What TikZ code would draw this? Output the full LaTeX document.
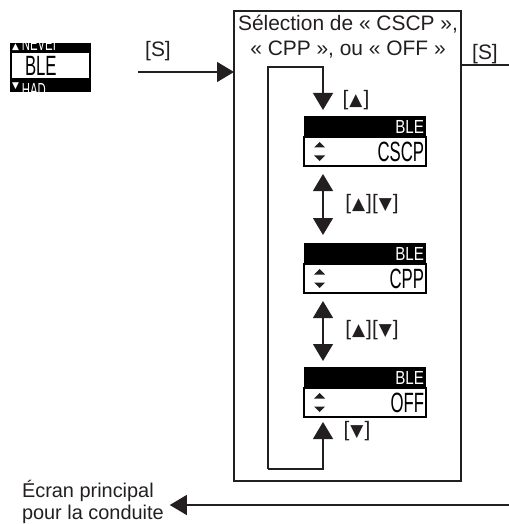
\documentclass[tikz,border=0pt]{standalone}
\usepackage{fontspec}
\setmainfont{Liberation Sans}
\newfontfamily\symfont{DejaVu Sans}
\newfontfamily\lcdfont[FakeStretch=0.6]{Liberation Sans}
\newfontfamily\lcdwide[FakeStretch=0.8]{Liberation Sans}
\usetikzlibrary{arrows.meta,positioning}
\definecolor{ink}{RGB}{35,31,32}
\newcommand{\trup}{\hspace{1bp}{\symfont\fontsize{17}{17}\selectfont ▲}\hspace{1bp}}
\newcommand{\trdn}{\hspace{1bp}{\symfont\fontsize{17}{17}\selectfont ▼}\hspace{1bp}}
% up/down marker on the left of a screen
\newcommand{\updn}[1]{\fill[ink, shift={(#1.west)}] (10,-4) -- (21,-4) -- (15.5,-9.5) -- cycle (10,4) -- (21,4) -- (15.5,9.5) -- cycle;}

\begin{document}
\begin{tikzpicture}[x=1bp, y=-1bp, ink,
  every node/.style={inner sep=0pt, outer sep=0pt, text=ink, font=\fontsize{21}{24}\selectfont},
  arr/.style={-{Triangle[width=20bp,length=17bp]}, line width=1.2bp},
  dblarr/.style={{Triangle[width=20bp,length=17bp]}-{Triangle[width=20bp,length=17bp]}, line width=1.2bp},
  lcdbar/.style={fill=black, text=white, minimum height=21bp, text width=118bp, inner xsep=2bp, align=right, font=\lcdwide\fontsize{19}{19}\selectfont},
  lcdscr/.style={draw=black, line width=2.4bp, fill=white, minimum height=29bp, text width=118bp, inner xsep=2bp, align=right, text=black, font=\lcdfont\fontsize{28}{28}\selectfont}]
  \useasboundingbox (0,0) rectangle (509,524);

  % Screen on the left
  \node[fill=black, minimum width=81bp, minimum height=49bp] (bleframe) at (50.5,67.5) {};
  \node[fill=white, minimum width=77bp, minimum height=25bp, text width=51bp, align=left, text=black, font=\lcdfont\fontsize{28}{28}\selectfont] (blescr) at (50.5,65.5) {BLE};
  \begin{scope}
    \clip (bleframe.north west) rectangle (bleframe.east |- blescr.north);
    \node[anchor=base west, text=white, font=\lcdfont\fontsize{19}{19}\selectfont] (bleup) at (12,51) {\raisebox{1bp}{\symfont\fontsize{9}{9}\selectfont ▲}\hspace{3bp}NEVEI};
  \end{scope}
  \begin{scope}
    \clip (bleframe.south west) rectangle (bleframe.east |- blescr.south);
    \node[anchor=base west, text=white, font=\lcdfont\fontsize{19}{19}\selectfont] (bledn) at (12,97) {\raisebox{8bp}{\symfont\fontsize{9}{9}\selectfont ▼}\hspace{3bp}HAD};
  \end{scope}

  % Selection box
  \node[draw, line width=1.2bp, minimum width=227bp, minimum height=470bp, anchor=north west] (selbox) at (234,11) {};
  \node[align=center, anchor=north, font=\fontsize{21}{25}\selectfont] (seltitle) at (348,15) {Sélection de «~CSCP~»,\\«~CPP~», ou «~OFF~»};

  % The three screens
  \node[lcdbar] (cscpbar) at (365,126.5) {BLE};
  \node[lcdscr, below=0pt of cscpbar] (cscp) {CSCP};
  \node[lcdbar] (cppbar) at (365,253.5) {BLE};
  \node[lcdscr, below=0pt of cppbar] (cpp) {CPP};
  \node[lcdbar] (offbar) at (365,377.5) {BLE};
  \node[lcdscr, below=0pt of offbar] (offscr) {OFF};
  \updn{cscp}
  \updn{cpp}
  \updn{offscr}

  % In and out
  \coordinate (sin) at (138,72);
  \draw[arr] (sin) -- (sin -| selbox.west);
  \node[anchor=base] (sleft) at (158,57) {[S]};
  \coordinate (sout) at (509,65);
  \draw[line width=1.2bp] (sout -| selbox.east) -- (sout);
  \node[anchor=base] (sright) at (485,60) {[S]};

  % Keys between the screens
  \coordinate (keycol) at (323,0);
  \draw[dblarr, shorten <=8bp, shorten >=8bp] (cscp.south -| keycol) -- (cppbar.north -| keycol);
  \draw[dblarr, shorten <=8bp, shorten >=6bp] (cpp.south -| keycol) -- (offbar.north -| keycol);
  \node (keyab) at (372,204) {[\trup][\trdn]};
  \node (keybc) at (372,330) {[\trup][\trdn]};

  % Loop from OFF back to CSCP
  \coordinate (loopbl) at (268,469);
  \coordinate (looptl) at (268,67);
  \draw[arr, shorten >=6bp] (loopbl) -- (looptl) -| (cscpbar.north -| keycol);
  \draw[arr, shorten >=5bp] (loopbl) -| (offscr.south -| keycol);
  \node (keyup) at (356,100) {[\trup]};
  \node (keydn) at (357,431) {[\trdn]};

  % Back to the main screen
  \node[align=left, anchor=base west, font=\fontsize{20}{22}\selectfont] (mainscr) at (22,519) {Écran principal\\pour la conduite};
  \coordinate (back) at (509,505);
  \draw[arr, shorten >=6bp] (back) -- (back -| mainscr.east);
\end{tikzpicture}
\end{document}
